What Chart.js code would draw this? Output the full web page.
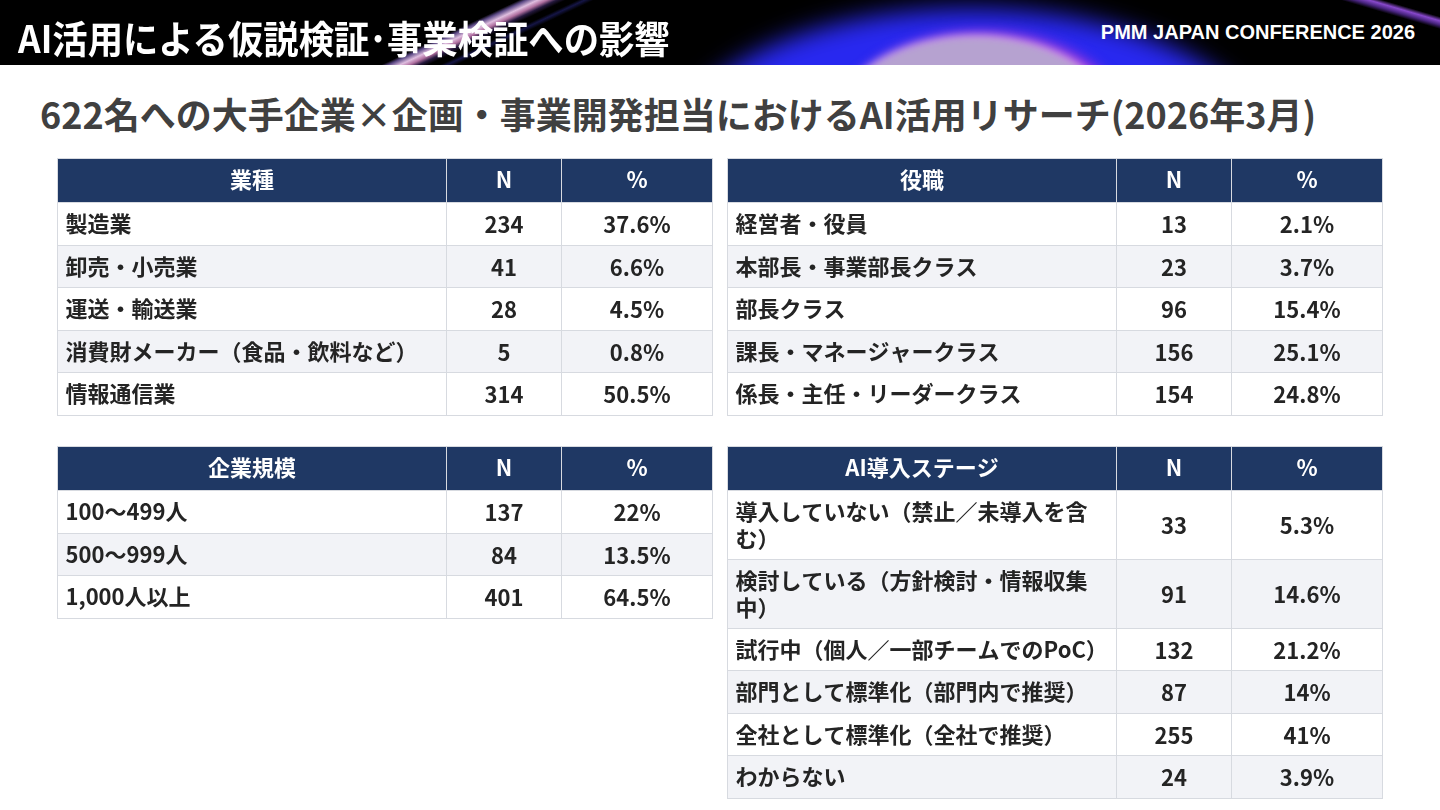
<!DOCTYPE html>
<html lang="ja">
<head>
<meta charset="utf-8">
<script src="https://cdn.jsdelivr.net/npm/chart.js@4.4.1/dist/chart.umd.min.js"></script>
<style>
html, body { margin: 0; padding: 0; background: #fff; }
body { width: 1440px; height: 810px; position: relative; overflow: hidden; font-family: "Noto Sans CJK JP", "Noto Sans", sans-serif; }
#banner { position: absolute; left: 0; top: 0; width: 1440px; height: 65px; overflow: hidden; background: #000; }
#banner .glow { position: absolute; border-radius: 50%; }
#glowBlue { left: 670px; top: 8px; width: 600px; height: 300px; background: rgb(40,40,240); filter: blur(12px); }
#glowLilac { left: 830px; top: 38px; width: 290px; height: 200px; background: rgb(182,162,208);
    box-shadow: 0 0 6px 3px rgba(232,195,236,0.9), 8px 0 12px 6px rgba(210,60,210,0.75); filter: blur(3px); }
#streaks { position: absolute; left: 0; top: 0; width: 1440px; height: 65px;
    background:
        linear-gradient(154.8deg, transparent 221px, rgba(150,120,220,0.6) 224px, rgba(235,200,235,0.95) 229px, rgba(220,140,200,0.8) 233px, rgba(120,80,200,0.3) 237px, transparent 241px, transparent 246px, rgba(60,60,200,0.35) 249px, transparent 253px),
        linear-gradient(196.3deg, transparent 16px, rgba(150,80,225,0.9) 20px, rgba(120,60,210,0.6) 24px, transparent 28px);
}
#title { position: absolute; left: 18px; top: 16px; line-height: 42px; font-size: 38px; font-weight: 700; color: #fff; white-space: nowrap; transform: scaleX(0.93); transform-origin: left center; }
#conf { position: absolute; right: 25px; top: 21px; line-height: 22px; font-family: "Liberation Sans", Arial, sans-serif; font-size: 20px; font-weight: 700; color: #fff; white-space: nowrap; }
#subtitle { position: absolute; left: 40px; top: 92px; line-height: 42px; font-size: 36px; font-weight: 700; color: #404040; white-space: nowrap; }
.tbl { position: absolute; }
</style>
</head>
<body>
<div id="banner">
    <div class="glow" id="glowBlue"></div>
    <div class="glow" id="glowLilac"></div>
    <div id="streaks"></div>
</div>
<div id="title">AI活用による仮説検証･事業検証への影響</div>
<div id="conf">PMM JAPAN CONFERENCE 2026</div>
<div id="subtitle">622名への大手企業×企画・事業開発担当におけるAI活用リサーチ(2026年3月)</div>

<div class="tbl" style="left:56px; top:157px; width:657px; height:259px;"><canvas id="industryTable"></canvas></div>
<div class="tbl" style="left:726px; top:157px; width:657px; height:259px;"><canvas id="roleTable"></canvas></div>
<div class="tbl" style="left:56px; top:445px; width:657px; height:174px;"><canvas id="sizeTable"></canvas></div>
<div class="tbl" style="left:726px; top:445px; width:657px; height:354px;"><canvas id="stageTable"></canvas></div>

<script>
// 業種
var industryHeader = ['業種', 'N', '%'];
var industryLabels = ['製造業', '卸売・小売業', '運送・輸送業', '消費財メーカー（食品・飲料など）', '情報通信業'];
var industryN = [234, 41, 28, 5, 314];
var industryPct = [37.6, 6.6, 4.5, 0.8, 50.5];

// 役職
var roleHeader = ['役職', 'N', '%'];
var roleLabels = ['経営者・役員', '本部長・事業部長クラス', '部長クラス', '課長・マネージャークラス', '係長・主任・リーダークラス'];
var roleN = [13, 23, 96, 156, 154];
var rolePct = [2.1, 3.7, 15.4, 25.1, 24.8];

// 企業規模
var sizeHeader = ['企業規模', 'N', '%'];
var sizeLabels = ['100～499人', '500～999人', '1,000人以上'];
var sizeN = [137, 84, 401];
var sizePct = [22, 13.5, 64.5];

// AI導入ステージ
var stageHeader = ['AI導入ステージ', 'N', '%'];
var stageLabels = [
    '導入していない（禁止／未導入を含\nむ）',
    '検討している（方針検討・情報収集\n中）',
    '試行中（個人／一部チームでのPoC）',
    '部門として標準化（部門内で推奨）',
    '全社として標準化（全社で推奨）',
    'わからない'
];
var stageN = [33, 91, 132, 87, 255, 24];
var stagePct = [5.3, 14.6, 21.2, 14, 41, 3.9];

// layout (table units)
var COL_EDGES = [0, 0.594, 0.7695, 1];
var HEADER_H = 1.03;
var EXTRA_LINE_H = 0.62;
var NAVY = '#1f3864';
var ALT = '#f2f3f7';
var BORDER = '#d7dae0';
var FONT = '"Noto Sans CJK JP", "Noto Sans", sans-serif';

function rowHeight(label) {
    return 1 + (String(label).split('\n').length - 1) * EXTRA_LINE_H;
}

function tableHeight(labels) {
    return labels.reduce(function (s, l) { return s + rowHeight(l); }, HEADER_H);
}

function px(v) { return Math.round(v) + 0.5; }

function tablePlugin(header, labels, counts, pcts) {
    return {
        id: 'tableCells',
        afterDraw: function (chart) {
            var ctx = chart.ctx;
            var xs = chart.scales.x, ys = chart.scales.y;
            var rows = [header].concat(labels.map(function (l, i) {
                return [l, String(counts[i]), pcts[i] + '%'];
            }));
            var top = 0;
            ctx.save();
            rows.forEach(function (row, r) {
                var h = r === 0 ? HEADER_H : rowHeight(row[0]);
                var y0 = px(ys.getPixelForValue(top));
                var y1 = px(ys.getPixelForValue(top + h));
                var bg = r === 0 ? NAVY : (r % 2 === 1 ? '#ffffff' : ALT);
                for (var c = 0; c < 3; c++) {
                    var x0 = px(xs.getPixelForValue(COL_EDGES[c]));
                    var x1 = px(xs.getPixelForValue(COL_EDGES[c + 1]));
                    ctx.fillStyle = bg;
                    ctx.fillRect(x0, y0, x1 - x0, y1 - y0);
                    ctx.strokeStyle = BORDER;
                    ctx.lineWidth = 1;
                    ctx.strokeRect(x0, y0, x1 - x0, y1 - y0);

                    ctx.fillStyle = r === 0 ? '#ffffff' : '#242424';
                    ctx.font = '700 22px ' + FONT;
                    ctx.textBaseline = 'middle';
                    var mid = (y0 + y1) / 2;
                    if (c === 0 && r > 0) {
                        var lines = String(row[0]).split('\n');
                        ctx.textAlign = 'left';
                        lines.forEach(function (t, k) {
                            ctx.fillText(t, x0 + 8, mid + (k - (lines.length - 1) / 2) * 27);
                        });
                    } else {
                        ctx.textAlign = 'center';
                        ctx.fillText(row[c], (x0 + x1) / 2, r === 0 ? mid - 0.5 : mid + 1);
                    }
                }
                top += h;
            });
            ctx.restore();
        }
    };
}

function makeTable(id, header, labels, counts, pcts) {
    return new Chart(document.getElementById(id), {
        type: 'scatter',
        data: { datasets: [] },
        options: {
            responsive: true,
            maintainAspectRatio: false,
            animation: false,
            events: [],
            layout: { padding: 1 },
            plugins: { legend: { display: false }, tooltip: { enabled: false } },
            scales: {
                x: { type: 'linear', min: 0, max: 1, display: false },
                y: { type: 'linear', min: 0, max: tableHeight(labels), reverse: true, display: false }
            }
        },
        plugins: [tablePlugin(header, labels, counts, pcts)]
    });
}

var industryChart = makeTable('industryTable', industryHeader, industryLabels, industryN, industryPct);
var roleChart = makeTable('roleTable', roleHeader, roleLabels, roleN, rolePct);
var sizeChart = makeTable('sizeTable', sizeHeader, sizeLabels, sizeN, sizePct);
var stageChart = makeTable('stageTable', stageHeader, stageLabels, stageN, stagePct);
</script>
</body>
</html>
